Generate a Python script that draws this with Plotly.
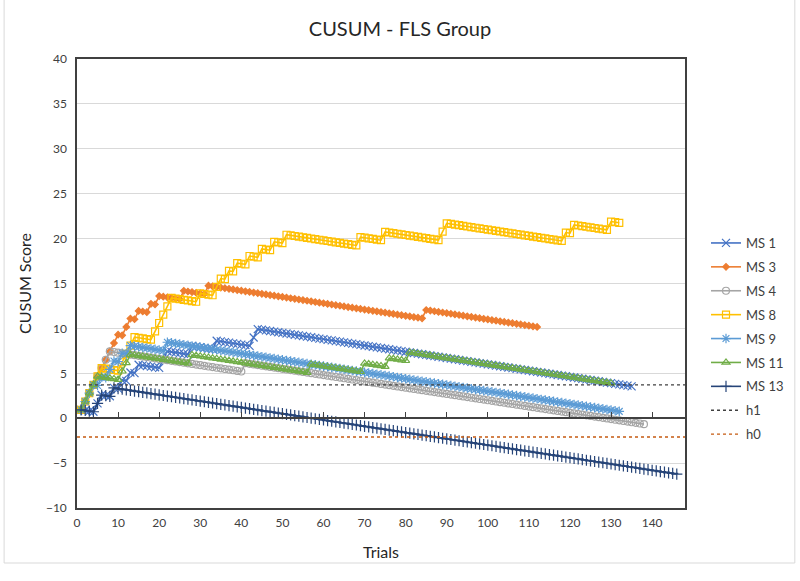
import plotly.graph_objects as go

# ---------------- data ----------------
STEP = 0.07                      # CUSUM decrement per success (failure adds 1 - STEP)
X_RANGE = [0, 148]
Y_RANGE = [-10, 40]
X_TICKS = list(range(0, 141, 10))
Y_TICKS = list(range(-10, 41, 5))
H1 = 3.71
H0 = -2.09

series_names = ["MS 1", "MS 3", "MS 4", "MS 8", "MS 9", "MS 11", "MS 13"]
n_trials = [135, 112, 138, 132, 132, 130, 146]

ms1_fail = [1, 5, 6, 9, 11, 13, 15, 21, 22, 28, 34, 43, 44]
ms3_fail = [1, 2, 3, 4, 5, 6, 7, 8, 9, 10, 12, 13, 15, 18, 20, 26, 32, 85]
ms4_fail = [1, 2, 3, 4, 5, 6, 7, 8, 41]
ms8_fail = [1, 2, 3, 4, 5, 6, 11, 12, 13, 14, 19, 20, 21, 22, 23, 30, 34, 35,
            37, 39, 42, 45, 48, 51, 69, 75, 89, 90, 119, 121, 130]
ms9_fail = [1, 2, 3, 4, 6, 8, 9, 11, 13, 22]
ms11_fail = [1, 2, 3, 4, 5, 11, 12, 13, 28, 57, 70, 76, 81]
ms13_fail = [1, 5, 6, 9]

failures = [ms1_fail, ms3_fail, ms4_fail, ms8_fail, ms9_fail, ms11_fail, ms13_fail]

# ---------------- styles ----------------
colors = ["#4472C4", "#ED7D31", "#A5A5A5", "#FFC000", "#5B9BD5", "#70AD47", "#264478"]
symbols = ["x-thin-open", "diamond", "circle-open", "square-open",
           "asterisk-open", "triangle-up-open", "cross-thin-open"]
msizes = [8, 5, 7, 7, 8, 7, 8]


def cusum(n, fails):
    fs = set(fails)
    v = 0.0
    trials, scores = [], []
    for t in range(1, n + 1):
        v += (1 - STEP) if t in fs else -STEP
        trials.append(t)
        scores.append(round(v, 4))
    return trials, scores


fig = go.Figure()
FONT = "Lato"
for i, name in enumerate(series_names):
    x, y = cusum(n_trials[i], failures[i])
    fig.add_trace(go.Scatter(
        x=x, y=y, name=name, mode="lines+markers",
        line=dict(color=colors[i], width=1.6),
        marker=dict(symbol=symbols[i], size=msizes[i], color=colors[i],
                    line=dict(color=colors[i], width=1.2)),
        legendgroup=name,
    ))

fig.add_trace(go.Scatter(x=X_RANGE, y=[H1, H1], name="h1", mode="lines",
                         line=dict(color="#404040", width=1.4, dash="dot"),
                         legendgroup="h1", xaxis="x2"))
fig.add_trace(go.Scatter(x=X_RANGE, y=[H0, H0], name="h0", mode="lines",
                         line=dict(color="#C55A11", width=1.4, dash="dot"),
                         legendgroup="h0", xaxis="x2"))

L, R, T, B = 77, 114, 59, 73
W, H = 800, 581
pw, ph = W - L - R, H - T - B
zero_pos = (0 - Y_RANGE[0]) / (Y_RANGE[1] - Y_RANGE[0])

fig.update_layout(
    width=W, height=H,
    margin=dict(l=L, r=R, t=T, b=B),
    paper_bgcolor="white", plot_bgcolor="white",
    font=dict(family=FONT, color="#404040"),
    title=dict(text="CUSUM - FLS Group", x=0.5, xref="container", y=1 - 29 / H,
               yref="container", xanchor="center", yanchor="middle",
               font=dict(family=FONT, size=20, color="#262626")),
    xaxis=dict(range=X_RANGE, tickvals=X_TICKS, showgrid=False, zeroline=False,
               showline=True, mirror=True, linecolor="#404040", linewidth=1.5,
               ticks="outside", ticklen=3, tickcolor="rgba(0,0,0,0)",
               tickfont=dict(size=12, color="#404040"), automargin=False,
               title=dict(text="Trials", font=dict(size=16, color="#262626"), standoff=18)),
    xaxis2=dict(range=X_RANGE, matches="x", overlaying="x", anchor="free",
                position=zero_pos, side="bottom", tickvals=X_TICKS[1:],
                ticks="inside", ticklen=5, tickcolor="#404040", tickwidth=1,
                showticklabels=False, showgrid=False, zeroline=False, automargin=False,
                showline=True, linecolor="#404040", linewidth=1.5),
    yaxis=dict(range=Y_RANGE, tickvals=Y_TICKS, showgrid=True, gridcolor="#D9D9D9",
               gridwidth=1, zeroline=False, showline=True, mirror=True,
               linecolor="#404040", linewidth=1.5, automargin=False,
               ticks="outside", ticklen=6, tickcolor="rgba(0,0,0,0)",
               tickfont=dict(size=12, color="#404040"),
               title=dict(text="CUSUM Score", font=dict(size=16, color="#262626"), standoff=10)),
    legend=dict(x=(706 - L) / pw, y=(B + ph - 242) / ph, xanchor="left", yanchor="top",
                font=dict(size=13, color="#404040"), tracegroupgap=4,
                traceorder="grouped", bgcolor="rgba(0,0,0,0)"),
    shapes=[dict(type="rect", xref="paper", yref="paper",
                 x0=(4 - L) / pw, x1=(796 - L) / pw,
                 y0=(B + ph - 577) / ph, y1=(B + ph - 6) / ph,
                 line=dict(color="#D9D9D9", width=1), layer="below")],
)

fig.write_html("out.html", config={"displayModeBar": False},
               post_script="document.body.style.margin='0px';")
